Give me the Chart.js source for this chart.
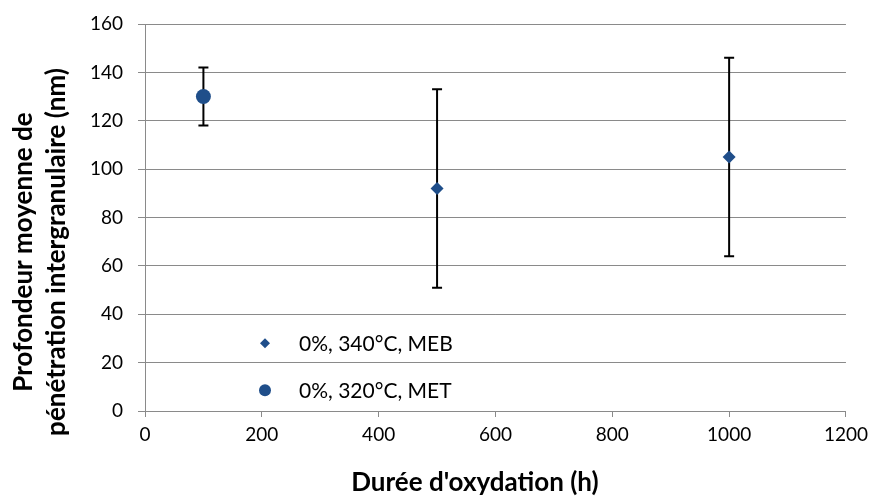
<!DOCTYPE html>
<html>
<head>
<meta charset="utf-8">
<script src="https://cdn.jsdelivr.net/npm/chart.js@4"></script>
<style>
  html, body { margin: 0; padding: 0; background: #fff; }
  #wrap { width: 874px; height: 496px; }
</style>
</head>
<body>
<div id="wrap"><canvas id="chart" width="874" height="496"></canvas></div>
<script>
// series: 0%, 340°C, MEB
const durations340 = [500, 1000];
const depth340 = [92, 105];
const errLow340 = [51, 64];
const errHigh340 = [133, 146];

// series: 0%, 320°C, MET
const durations320 = [100];
const depth320 = [130];
const errLow320 = [118];
const errHigh320 = [142];

const seriesNames = ["0%, 340°C, MEB", "0%, 320°C, MET"];
const xTicks = [0, 200, 400, 600, 800, 1000, 1200];
const yTicks = [0, 20, 40, 60, 80, 100, 120, 140, 160];
const xTitle = "Durée d'oxydation (h)";
const yTitle = ["Profondeur moyenne de", "pénétration intergranulaire (nm)"];

const blue = "#1F4E8A";
const grey = "#8A8A8A";
const font = "Lato, 'Open Sans', sans-serif";

const errors = [
    { low: errLow340, high: errHigh340 },
    { low: errLow320, high: errHigh320 }
];

const errorBars = {
    id: "errorBars",
    beforeDatasetsDraw(chart) {
        const ctx = chart.ctx;
        const xs = chart.scales.x, ys = chart.scales.y;
        ctx.save();
        ctx.strokeStyle = "#000";
        ctx.lineWidth = 2;
        chart.data.datasets.forEach((ds, i) => {
            ds.data.forEach((pt, j) => {
                const x = xs.getPixelForValue(pt.x);
                const yl = ys.getPixelForValue(errors[i].low[j]);
                const yh = ys.getPixelForValue(errors[i].high[j]);
                ctx.beginPath();
                ctx.moveTo(x, yl); ctx.lineTo(x, yh);
                ctx.moveTo(x - 5, yl); ctx.lineTo(x + 5, yl);
                ctx.moveTo(x - 5, yh); ctx.lineTo(x + 5, yh);
                ctx.stroke();
            });
        });
        ctx.restore();
    }
};

// legend sits inside the plot, and the axis titles are offset like in the original
const extras = {
    id: "extras",
    afterDraw(chart) {
        const ctx = chart.ctx;
        const area = chart.chartArea;
        const ys = chart.scales.y;
        const x0 = area.left + 120;
        const rows = [ys.getPixelForValue(28), ys.getPixelForValue(8.6)];
        ctx.save();
        ctx.fillStyle = blue;
        ctx.beginPath();
        ctx.moveTo(x0, rows[0] - 5);
        ctx.lineTo(x0 + 5, rows[0]);
        ctx.lineTo(x0, rows[0] + 5);
        ctx.lineTo(x0 - 5, rows[0]);
        ctx.closePath();
        ctx.fill();
        ctx.beginPath();
        ctx.arc(x0, rows[1], 6, 0, Math.PI * 2);
        ctx.fill();

        ctx.fillStyle = "#000";
        ctx.font = "21px " + font;
        ctx.textBaseline = "middle";
        seriesNames.forEach((name, i) => ctx.fillText(name, x0 + 34, rows[i] + 1));

        ctx.font = "bold 26px " + font;
        ctx.textAlign = "center";
        ctx.textBaseline = "alphabetic";
        ctx.fillText(xTitle, 475, 491);

        [32, 65].forEach((bx, i) => {
            ctx.save();
            ctx.translate(bx, 252);
            ctx.rotate(-Math.PI / 2);
            ctx.fillText(yTitle[i], 0, 0);
            ctx.restore();
        });
        ctx.restore();
    }
};

new Chart(document.getElementById("chart"), {
    type: "scatter",
    data: {
        datasets: [
            {
                label: seriesNames[0],
                data: durations340.map((d, i) => ({ x: d, y: depth340[i] })),
                pointStyle: "rectRot",
                pointRadius: 6.5,
                backgroundColor: blue,
                borderColor: blue,
                borderWidth: 0
            },
            {
                label: seriesNames[1],
                data: durations320.map((d, i) => ({ x: d, y: depth320[i] })),
                pointStyle: "circle",
                pointRadius: 7.5,
                backgroundColor: blue,
                borderColor: blue,
                borderWidth: 0
            }
        ]
    },
    options: {
        responsive: false,
        animation: false,
        layout: { padding: { top: 24, right: 28, left: 0, bottom: 0 } },
        plugins: {
            legend: { display: false },
            tooltip: { enabled: false }
        },
        scales: {
            x: {
                type: "linear",
                min: 0,
                max: 1200,
                afterBuildTicks: s => { s.ticks = xTicks.map(v => ({ value: v })); },
                afterFit: s => { s.height = 85; },
                grid: { drawOnChartArea: false, color: grey, tickLength: 6 },
                border: { color: grey, width: 1 },
                ticks: { color: "#000", font: { family: font, size: 19 }, padding: 6, callback: v => String(v) }
            },
            y: {
                min: 0,
                max: 160,
                afterBuildTicks: s => { s.ticks = yTicks.map(v => ({ value: v })); },
                afterFit: s => { s.width = 145; s.paddingTop = 0; s.paddingBottom = 0; },
                grid: { color: grey, tickLength: 7 },
                border: { color: grey, width: 1 },
                ticks: { color: "#000", font: { family: font, size: 19 }, padding: 15, callback: v => String(v) }
            }
        }
    },
    plugins: [errorBars, extras]
});
</script>
</body>
</html>
